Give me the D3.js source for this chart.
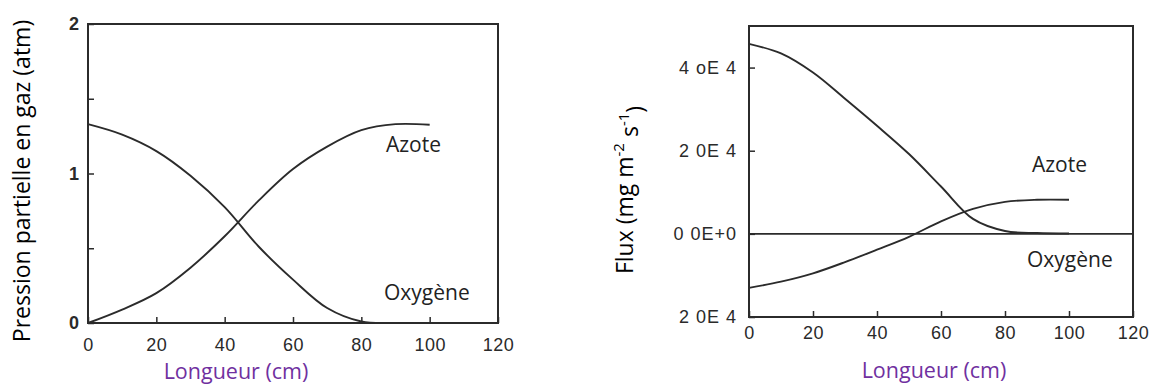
<!DOCTYPE html>
<html>
<head>
<meta charset="utf-8">
<script src="https://cdn.jsdelivr.net/npm/d3@7"></script>
<style>
  html, body { margin: 0; padding: 0; background: #fff; }
  svg { display: block; }
  .tick-label { font-family: "Liberation Sans", Arial, sans-serif; font-size: 18px; fill: #2a2a2a; }
  .title { font-family: "Open Sans", "Noto Sans", sans-serif; }
</style>
</head>
<body>
<svg id="chart" width="1150" height="387"></svg>
<script>
// Distance along the module (cm)
const lengthCm = [0, 10, 20, 30, 40, 50, 60, 70, 80, 90, 100];

// Partial pressure in the gas phase (atm)
const pressureO2 = [1.33, 1.26, 1.15, 0.985, 0.775, 0.51, 0.29, 0.10, 0.01, 0.0, 0.0];
const pressureN2 = [0.0, 0.09, 0.20, 0.37, 0.58, 0.82, 1.03, 1.18, 1.29, 1.33, 1.326];

// Flux, in units of 1E4 mg m-2 s-1
const fluxO2 = [4.57, 4.34, 3.88, 3.25, 2.60, 1.92, 1.14, 0.36, 0.07, 0.02, 0.01];
const fluxN2 = [-1.30, -1.15, -0.95, -0.68, -0.38, -0.07, 0.30, 0.60, 0.77, 0.82, 0.82];

// Axis ticks and their printed labels
const xTicks = [0, 20, 40, 60, 80, 100, 120];
const xTickLabels = ["0", "20", "40", "60", "80", "100", "120"];
const pressureTicks = [0, 0.5, 1, 1.5, 2];
const pressureTickLabels = ["0", "", "1", "", "2"];
const fluxTicks = [-2, 0, 2, 4];
const fluxTickLabels = ["2 0E 4", "0 0E+0", "2 0E 4", "4 oE 4"];

const svg = d3.select("#chart");
const ink = "#2b2b2b";

function drawPanel(opts) {
  const g = svg.append("g");
  const x = d3.scaleLinear().domain([0, 120]).range([opts.left, opts.right]);
  const y = d3.scaleLinear().domain(opts.yDomain).range([opts.bottom, opts.top]);

  // bottom axis with inward ticks
  const xAxis = d3.axisBottom(x)
    .tickValues(xTicks)
    .tickSize(-6)
    .tickPadding(opts.xPad)
    .tickFormat((d, i) => xTickLabels[i]);
  const gx = g.append("g").attr("transform", `translate(0,${opts.bottom})`).call(xAxis);
  gx.select(".domain").remove();
  gx.selectAll(".tick line").attr("stroke", ink).attr("stroke-width", 1.5);
  gx.selectAll(".tick text").attr("class", "tick-label").attr("dy", "0.71em")
    .style("letter-spacing", "0.5px");

  // left axis with inward ticks
  const yAxis = d3.axisLeft(y)
    .tickValues(opts.yTicks)
    .tickSize(-6)
    .tickPadding(opts.yPad)
    .tickFormat((d, i) => opts.yTickLabels[i]);
  const gy = g.append("g").attr("transform", `translate(${opts.left},0)`).call(yAxis);
  gy.select(".domain").remove();
  gy.selectAll(".tick line").attr("stroke", ink).attr("stroke-width", 1.5);
  gy.selectAll(".tick text").attr("class", "tick-label")
    .style("letter-spacing", opts.yLetterSpacing)
    .style("font-weight", opts.yWeight);

  // frame
  g.append("rect")
    .attr("x", opts.left).attr("y", opts.top)
    .attr("width", opts.right - opts.left).attr("height", opts.bottom - opts.top)
    .attr("fill", "none").attr("stroke", ink).attr("stroke-width", 2);

  if (opts.zeroLine) {
    g.append("line")
      .attr("x1", x(0)).attr("x2", x(120))
      .attr("y1", y(0)).attr("y2", y(0))
      .attr("stroke", ink).attr("stroke-width", 1.8);
  }

  const line = d3.line()
    .x((d, i) => x(lengthCm[i]))
    .y(d => y(d))
    .curve(d3.curveCatmullRom.alpha(0.5));

  opts.series.forEach(s => {
    g.append("path")
      .datum(s)
      .attr("d", line)
      .attr("fill", "none")
      .attr("stroke", ink)
      .attr("stroke-width", 1.9);
  });

  // curve names
  opts.names.forEach(n => {
    g.append("text")
      .attr("class", "title")
      .attr("x", n.x).attr("y", n.y)
      .attr("dy", "0.35em")
      .attr("font-size", 21)
      .attr("fill", "#222")
      .text(n.text);
  });

  // x axis title
  g.append("text")
    .attr("class", "title")
    .attr("x", opts.xTitleX).attr("y", opts.xTitleY)
    .attr("text-anchor", "middle")
    .attr("dy", "0.35em")
    .attr("font-size", 21.5)
    .attr("fill", "#7030a0")
    .text("Longueur (cm)");

  return { x, y, g };
}

// Left panel: partial pressure
drawPanel({
  left: 88, right: 498, top: 24, bottom: 323,
  yDomain: [0, 2],
  yTicks: pressureTicks, yTickLabels: pressureTickLabels,
  xPad: 15, yPad: 9, yLetterSpacing: "0px", yWeight: "bold",
  zeroLine: false,
  series: [pressureO2, pressureN2],
  names: [{ text: "Azote", x: 386, y: 145 }, { text: "Oxygène", x: 384, y: 293 }],
  xTitleX: 236, xTitleY: 371
});

svg.append("text")
  .attr("class", "title")
  .attr("transform", "translate(22,181) rotate(-90)")
  .attr("text-anchor", "middle")
  .attr("dy", "0.35em")
  .attr("font-size", 23)
  .attr("fill", "#000")
  .text("Pression partielle en gaz (atm)");

// Right panel: flux
drawPanel({
  left: 749, right: 1133, top: 26, bottom: 317,
  yDomain: [-2, 5],
  yTicks: fluxTicks, yTickLabels: fluxTickLabels,
  xPad: 9, yPad: 12, yLetterSpacing: "1px", yWeight: "normal",
  zeroLine: true,
  series: [fluxO2, fluxN2],
  names: [{ text: "Azote", x: 1032, y: 165 }, { text: "Oxygène", x: 1027, y: 260 }],
  xTitleX: 934, xTitleY: 370
});

const fluxTitle = svg.append("text")
  .attr("class", "title")
  .attr("transform", "translate(625,190) rotate(-90)")
  .attr("text-anchor", "middle")
  .attr("dy", "0.35em")
  .attr("font-size", 23)
  .attr("fill", "#000");
fluxTitle.append("tspan").text("Flux (mg m");
fluxTitle.append("tspan").attr("dy", "-0.6em").attr("font-size", 15).text("-2");
fluxTitle.append("tspan").attr("dy", "0.6em").text(" s");
fluxTitle.append("tspan").attr("dy", "-0.6em").attr("font-size", 15).text("-1");
fluxTitle.append("tspan").attr("dy", "0.6em").text(")");
</script>
</body>
</html>
